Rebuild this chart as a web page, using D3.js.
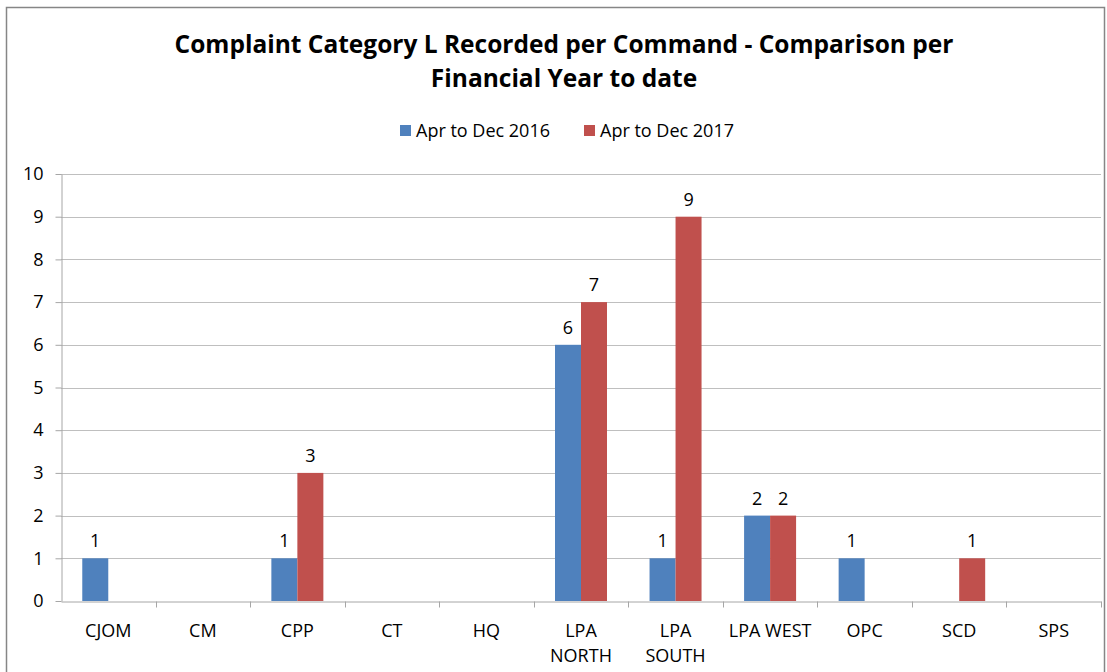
<!DOCTYPE html>
<meta charset="utf-8" />
<title>Complaint Category L Recorded per Command</title>
<style>
  body { margin: 0; background: #fff; }
  text { font-family: "Open Sans", sans-serif; fill: #000; }
  .grid line { stroke: #bfbfbf; stroke-width: 1px; }
  .axis path, .axis line { stroke: #a6a6a6; }
</style>
<body>
<svg width="1107" height="672"></svg>
<script src="https://d3js.org/d3.v7.min.js"></script>
<script>
  const commands = ["CJOM", "CM", "CPP", "CT", "HQ", "LPA NORTH", "LPA SOUTH", "LPA WEST", "OPC", "SCD", "SPS"];
  const series = ["Apr to Dec 2016", "Apr to Dec 2017"];
  const values2016 = [1, 0, 1, 0, 0, 6, 1, 2, 1, 0, 0];
  const values2017 = [0, 0, 3, 0, 0, 7, 9, 2, 0, 1, 0];
  const yTicks = [0, 1, 2, 3, 4, 5, 6, 7, 8, 9, 10];
  const colors = ["#4f81bd", "#c0504d"];

  const svg = d3.select("svg");
  const fs = "18px";

  // outer chart border
  svg.append("rect")
    .attr("x", 6.5).attr("y", 7.5)
    .attr("width", 1098).attr("height", 680)
    .attr("fill", "none").attr("stroke", "#868686").attr("stroke-width", 1.5);

  // title
  const title = svg.append("text")
    .attr("text-anchor", "middle")
    .style("font-weight", "bold")
    .style("font-size", "24.5px");
  title.append("tspan").attr("x", 564).attr("y", 53).text("Complaint Category L Recorded per Command - Comparison per");
  title.append("tspan").attr("x", 564).attr("y", 87).text("Financial Year to date");

  const x0 = d3.scaleBand().domain(commands).range([61, 1101]).paddingInner(0).paddingOuter(0);
  const x1 = d3.scaleBand().domain(series).range([0, 52]);
  const y = d3.scaleLinear().domain([0, 10]).range([601, 174]);

  // grid lines
  svg.append("g").attr("class", "grid")
    .selectAll("line").data(yTicks.filter(d => d > 0)).enter().append("line")
    .attr("x1", 61).attr("x2", 1101)
    .attr("y1", d => Math.round(y(d)) + 0.5).attr("y2", d => Math.round(y(d)) + 0.5);

  // y axis
  const yAxis = svg.append("g").attr("class", "axis")
    .attr("transform", "translate(61.5,0)")
    .call(d3.axisLeft(y).tickValues(yTicks).tickSize(6).tickPadding(12).tickSizeOuter(0));
  yAxis.selectAll("text").style("font-size", fs).attr("fill", "#000");

  // x axis
  const xAxis = svg.append("g").attr("class", "axis")
    .attr("transform", "translate(0,601.5)")
    .call(d3.axisBottom(x0).tickSize(0).tickSizeOuter(0).tickFormat(""));
  xAxis.selectAll(".sep").data(commands.map((c, i) => i + 1)).enter().append("line")
    .attr("class", "sep")
    .attr("x1", i => Math.round(61 + i * x0.bandwidth()) + 0.5)
    .attr("x2", i => Math.round(61 + i * x0.bandwidth()) + 0.5)
    .attr("y1", 0).attr("y2", 6);

  const xl = svg.append("g").selectAll("text").data(commands).enter().append("text")
    .attr("text-anchor", "middle")
    .style("font-size", fs)
    .attr("x", d => x0(d) + x0.bandwidth() / 2);
  xl.each(function (d) {
    const words = (d === "LPA WEST") ? [d] : d.split(" ");
    const t = d3.select(this);
    words.forEach((w, i) => t.append("tspan")
      .attr("x", x0(d) + x0.bandwidth() / 2)
      .attr("y", 637 + i * 25).text(w));
  });

  // bars
  const rows = commands.map((c, i) => ({ c, vals: [values2016[i], values2017[i]] }));
  const groups = svg.append("g").selectAll("g").data(rows).enter().append("g")
    .attr("transform", d => `translate(${x0(d.c) + x0.bandwidth() / 2 - 26},0)`);

  groups.selectAll("rect").data(d => d.vals.map((v, k) => ({ v, k })).filter(e => e.v > 0))
    .enter().append("rect")
    .attr("x", e => x1(series[e.k]))
    .attr("width", x1.bandwidth())
    .attr("y", e => y(e.v))
    .attr("height", e => y(0) - y(e.v))
    .attr("fill", e => colors[e.k]);

  groups.selectAll("text").data(d => d.vals.map((v, k) => ({ v, k })).filter(e => e.v > 0))
    .enter().append("text")
    .attr("text-anchor", "middle")
    .style("font-size", fs)
    .attr("x", e => x1(series[e.k]) + x1.bandwidth() / 2)
    .attr("y", e => y(e.v) - 11)
    .text(e => e.v);

  // legend
  const leg = svg.append("g").selectAll("g").data(series).enter().append("g")
    .attr("transform", (d, i) => `translate(${i === 0 ? 400 : 584},125)`);
  leg.append("rect").attr("width", 11).attr("height", 11).attr("fill", (d, i) => colors[i]);
  leg.append("text").attr("x", 16).attr("y", 12).style("font-size", fs).text(d => d);
</script>
</body>
